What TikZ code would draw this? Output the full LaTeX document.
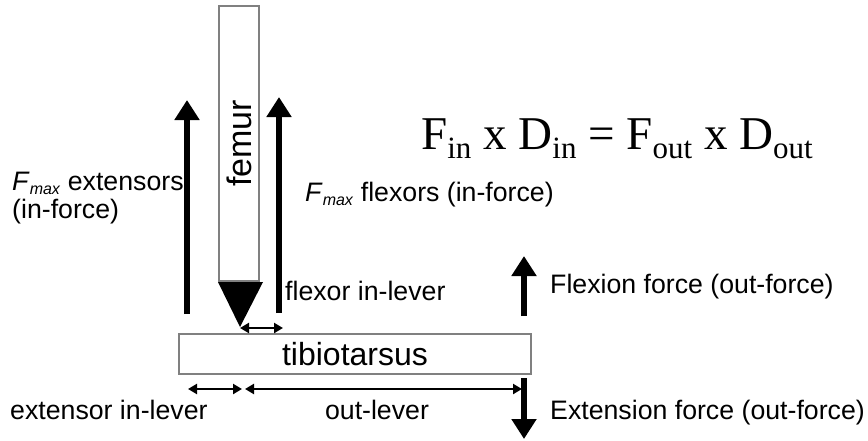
\documentclass[tikz,border=0pt]{standalone}
\usepackage{fontspec}
\setmainfont{Liberation Sans}
\newfontfamily\timesfont{Liberation Serif}
\usetikzlibrary{arrows.meta}
\newcommand{\fmax}{\textit{F}\raisebox{-0.18em}{\fontsize{16}{16}\selectfont\textit{max}}}
\newcommand{\eqsub}[1]{\raisebox{-0.2em}{\fontsize{31}{31}\selectfont #1}}

\begin{document}
\begin{tikzpicture}[x=1pt, y=-1pt,
    bone/.style={draw=gray, line width=1.5pt, fill=white, inner sep=0pt},
    force/.style={line width=6pt, -{Triangle[width=24pt,length=20pt]}},
    lever/.style={line width=2.5pt, {Triangle[width=10pt,length=9pt]}-{Triangle[width=10pt,length=9pt]}},
    lbl/.style={font=\fontsize{26.7}{32}\selectfont, inner sep=0pt},
    bonelbl/.style={font=\fontsize{32}{38}\selectfont}]
            \useasboundingbox (0,0) rectangle (868,440);
            % Femur und Spitze
            \node[bone, bonelbl, minimum width=40pt, minimum height=275pt] (femur) at (239,143.5) {\fontsize{34}{38}\selectfont\rotatebox{90}{femur}};
            \fill (218,282) -- (263,282) -- (240,327) coordinate (tip) -- cycle;
            % Tibiotarsus
            \node[bone, bonelbl, minimum width=352pt, minimum height=40pt] (tibio) at (355,354) {tibiotarsus};
            
            % Muskelkraefte (in-force)
            \coordinate (ext0) at (187,314);
            \coordinate (ext1) at (187,100);
            \coordinate (flx0) at (279,313);
            \coordinate (flx1) at (279,97);
            \draw[force] (ext0) -- (ext1);
            \draw[force] (flx0) -- (flx1);
            % Kraefte am Ende (out-force)
            \coordinate (up0) at (524,316);
            \coordinate (up1) at (524,256);
            \coordinate (dn0) at (524,378);
            \coordinate (dn1) at (524,439);
            \draw[force] (up0) -- (up1);
            \draw[force] (dn0) -- (dn1);
            
            % Hebelarme
            \coordinate (fl0) at (240,328);
            \coordinate (fl1) at (283,328);
            \coordinate (el0) at (188,389);
            \coordinate (el1) at (242,389);
            \coordinate (ol0) at (245,389);
            \coordinate (ol1) at (522,389);
            \draw[lever] (fl0) -- (fl1);
            \draw[lever] (el0) -- (el1);
            \draw[lever] (ol0) -- (ol1);
            
            % Beschriftungen
            \node[lbl, anchor=base west] (extlbl) at (12,190) {\fmax{} extensors};
            \node[lbl, anchor=base west] (extlbl2) at (12,218) {(in-force)};
            \node[lbl, anchor=base west] (flxlbl) at (305,201) {\fmax{} flexors (in-force)};
            \node[lbl, anchor=base west] (fllbl) at (285,300) {flexor in-lever};
            \node[lbl, anchor=base west] (uplbl) at (550,293) {Flexion force (out-force)};
            \node[lbl, anchor=base west] (dnlbl) at (550,419) {Extension force (out-force)};
            \node[lbl, anchor=base west] (ellbl) at (10,419) {extensor in-lever};
            \node[lbl, anchor=base] (ollbl) at (377,419) {out-lever};
            \node[inner sep=0pt, anchor=base west, font=\timesfont\fontsize{47}{52}\selectfont] (eq) at (421,149)
                {F\eqsub{in} x D\eqsub{in} = F\eqsub{out} x D\eqsub{out}};
        \end{tikzpicture}
\end{document}
